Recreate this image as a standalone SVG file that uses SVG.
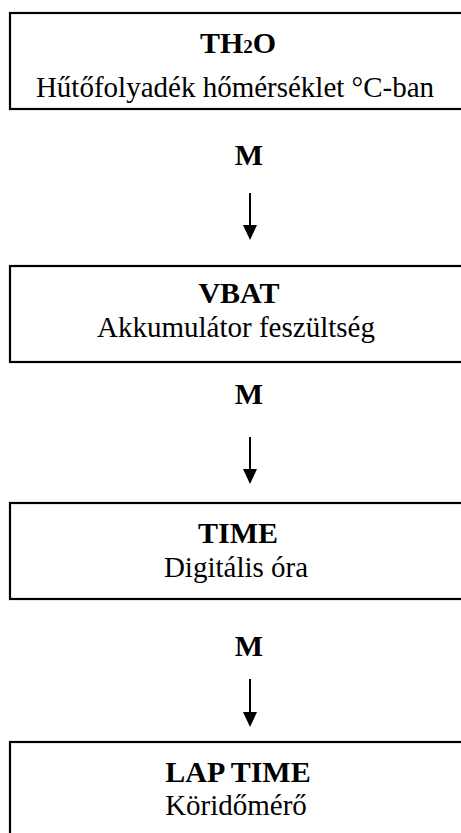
<svg xmlns="http://www.w3.org/2000/svg" width="461" height="833" viewBox="0 0 461 833">
<style>
.box{fill:#fff;stroke:#000;stroke-width:2.2}
.t{font-family:"Liberation Serif","Times New Roman",serif;font-size:29px;fill:#000;text-anchor:middle}
.b{font-weight:bold;font-size:30px}
.c{stroke:#000;stroke-width:2;fill:none}
.h{fill:#000}
</style>
<rect width="461" height="833" fill="#fff"/>
<g id="n1">
<rect class="box" x="10" y="13" width="455" height="96"/>
<text class="t b" x="238" y="53">TH<tspan font-size="19">2</tspan>O</text>
<text class="t" x="235" y="97">Hűtőfolyadék hőmérséklet °C-ban</text>
</g>
<g id="n2">
<rect class="box" x="10" y="266" width="455" height="96"/>
<text class="t b" x="239" y="303">VBAT</text>
<text class="t" x="236" y="337">Akkumulátor feszültség</text>
</g>
<g id="n3">
<rect class="box" x="10" y="503" width="455" height="96"/>
<text class="t b" x="238" y="543">TIME</text>
<text class="t" x="236" y="577">Digitális óra</text>
</g>
<g id="n4">
<rect class="box" x="10" y="742" width="455" height="100"/>
<text class="t b" x="238" y="782">LAP TIME</text>
<text class="t" x="236" y="815">Köridőmérő</text>
</g>
<g id="connectors">
<text class="t b" x="249" y="165">M</text>
<line class="c" x1="250" y1="193" x2="250" y2="226"/>
<path class="h" d="M243,225 L257,225 L250,240 Z"/>
<text class="t b" x="249" y="404">M</text>
<line class="c" x1="250" y1="437" x2="250" y2="470"/>
<path class="h" d="M243,469 L257,469 L250,484 Z"/>
<text class="t b" x="249" y="656">M</text>
<line class="c" x1="250" y1="679" x2="250" y2="713"/>
<path class="h" d="M243,712 L257,712 L250,727 Z"/>
</g>
</svg>
